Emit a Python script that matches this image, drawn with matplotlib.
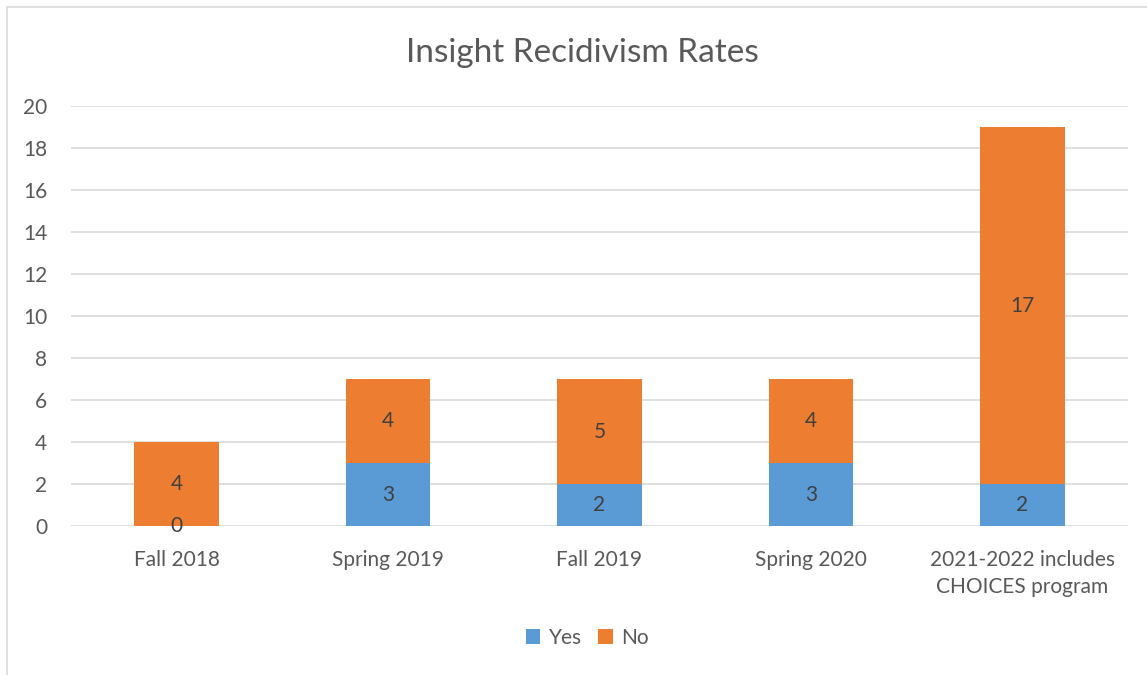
import matplotlib
matplotlib.use('Agg')
from matplotlib import pyplot as plt
from matplotlib.patches import Rectangle
import numpy as np

plt.rcParams['font.family'] = ['Lato', 'DejaVu Sans']

# data
categories = ['Fall 2018', 'Spring 2019', 'Fall 2019', 'Spring 2020',
              '2021-2022 includes\nCHOICES program']
yes_vals = [0, 3, 2, 3, 2]
no_vals = [4, 4, 5, 4, 17]

blue = '#5B9BD5'
orange = '#ED7D31'
txt = '#595959'

fig = plt.figure(figsize=(11.47, 6.75), dpi=100)
ax = fig.add_axes([0.0619, 0.2207, 0.9215, 0.6222])

x = np.arange(len(categories))
ax.bar(x, yes_vals, width=0.4, color=blue, label='Yes', zorder=3)
ax.bar(x, no_vals, width=0.4, bottom=yes_vals, color=orange, label='No', zorder=3)

# data labels in middle of each segment
for i in range(len(x)):
    ax.text(x[i], yes_vals[i] / 2, str(yes_vals[i]), ha='center', va='center',
            fontsize=15, color='#404040', zorder=4)
    ax.text(x[i], yes_vals[i] + no_vals[i] / 2, str(no_vals[i]), ha='center',
            va='center', fontsize=15, color='#404040', zorder=4)

ax.set_xlim(-0.5, len(x) - 0.5)
ax.set_ylim(0, 20)
ax.set_yticks(range(0, 21, 2))
ax.set_xticks(x)
ax.set_xticklabels(categories, fontsize=15, color=txt, linespacing=1.45)
ax.tick_params(axis='y', labelsize=15, colors=txt, length=0, pad=17)
ax.tick_params(axis='x', length=0, pad=17)
ax.grid(axis='y', color='#D9D9D9', linewidth=1.2, zorder=0)
for s in ax.spines.values():
    s.set_visible(False)

fig.text(0.508, 0.922, 'Insight Recidivism Rates', ha='center', va='center',
         fontsize=24, color=txt)

fig.legend(loc='center', bbox_to_anchor=(0.512, 0.055), ncol=2, frameon=False,
           fontsize=15, labelcolor=txt, handlelength=0.7, handleheight=0.7,
           handletextpad=0.4, columnspacing=0.8)

# chart border
fig.patches.append(Rectangle((0.006, -0.1), 1.1, 1.09, transform=fig.transFigure,
                             fill=False, edgecolor='#D9D9D9', linewidth=1.2))

plt.savefig('out.png', dpi=100)
